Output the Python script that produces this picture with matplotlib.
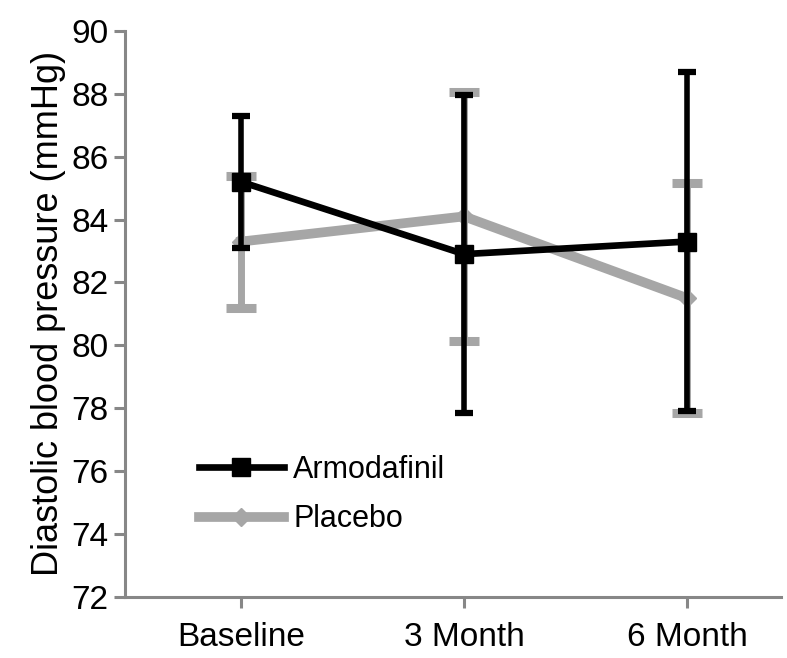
import numpy as np
import matplotlib.pyplot as plt
from matplotlib.lines import Line2D

# Diastolic blood pressure by visit (mean and error)
visits = ['Baseline', '3 Month', '6 Month']
armodafinil_mean = [85.2, 82.9, 83.3]
armodafinil_err = [2.1, 5.05, 5.4]
placebo_mean = [83.3, 84.1, 81.5]
placebo_err = [2.1, 3.95, 3.65]

plt.rcParams['font.family'] = ['Liberation Sans', 'DejaVu Sans']

fig = plt.figure(figsize=(7.87, 6.58), dpi=100)
ax = fig.add_axes([0.159, 0.093, 0.833, 0.860])

x = np.arange(len(visits))
grey = '#a6a6a6'

ax.errorbar(x, placebo_mean, yerr=placebo_err, color=grey, lw=7,
            marker='D', markersize=9, elinewidth=5, capsize=10.5,
            capthick=6.5, zorder=2)
ax.errorbar(x, armodafinil_mean, yerr=armodafinil_err, color='black', lw=4.8,
            marker='s', markersize=13, elinewidth=4, capsize=6.5,
            capthick=4.5, zorder=3)

ax.set_ylim(72, 90)
ax.set_yticks(np.arange(72, 91, 2))
ax.set_xlim(-0.52, 2.42)
ax.set_xticks(x)
ax.set_xticklabels(visits)

for side in ['top', 'right']:
    ax.spines[side].set_visible(False)
for side in ['left', 'bottom']:
    ax.spines[side].set_color('#878787')
    ax.spines[side].set_linewidth(2.2)
ax.tick_params(axis='both', colors='#878787', width=2.2, length=8,
               labelcolor='black', labelsize=24)
ax.tick_params(axis='x', pad=10)
ax.tick_params(axis='y', pad=4)

ax.set_ylabel('Diastolic blood pressure (mmHg)', fontsize=26, labelpad=4)

# legend entries: plain line with marker, no error bars
handles = [
    Line2D([], [], color='black', lw=4.8, marker='s', markersize=13),
    Line2D([], [], color=grey, lw=7, marker='D', markersize=9),
]
ax.legend(handles, ['Armodafinil', 'Placebo'], loc='upper left',
          bbox_to_anchor=(0.07, 0.3), frameon=False, fontsize=22,
          handlelength=2.8, handletextpad=0.3, labelspacing=0.65)

fig.savefig('out.png', dpi=100)
